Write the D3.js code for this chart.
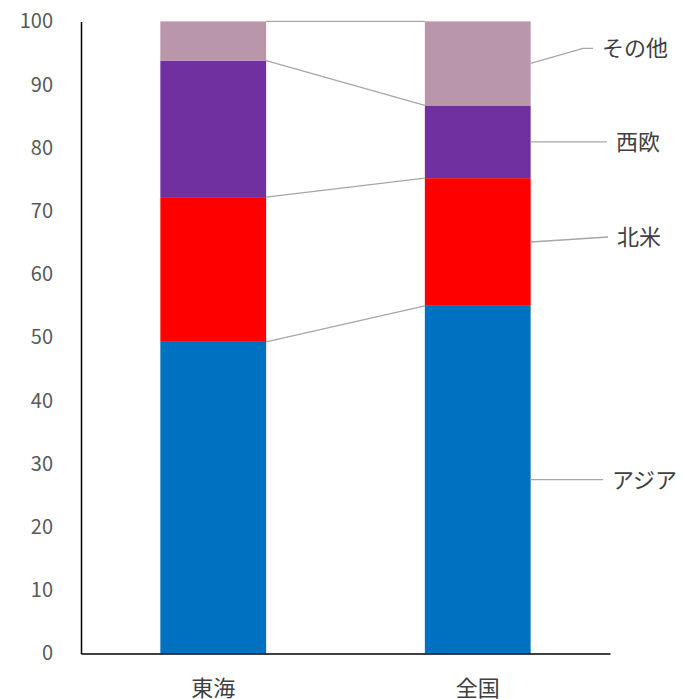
<!DOCTYPE html>
<html>
<head>
<meta charset="utf-8">
<script src="https://cdn.jsdelivr.net/npm/d3@7"></script>
<style>
  body { margin: 0; background: #fff; }
  svg { display: block; }
</style>
</head>
<body>
<script>
// chart values
var categories = ["東海", "全国"];
var seriesNames = ["アジア", "北米", "西欧", "その他"];
var asia = [49.3, 55.0];
var northAmerica = [22.9, 20.2];
var westEurope = [21.6, 11.5];
var other = [6.2, 13.3];
var yTicks = [0, 10, 20, 30, 40, 50, 60, 70, 80, 90, 100];

var colors = ["#0070C0", "#FF0000", "#7030A0", "#B996AA"];

var w = 682, h = 699;
// plot box (note: "top" is a reserved window prop, so use other names)
var plotLeft = 81, plotRight = 610, plotTop = 21.4, plotBottom = 653.5;

var svg = d3.select("body").append("svg")
    .attr("width", w)
    .attr("height", h);

// build rows for d3.stack
var rows = categories.map(function(c, i) {
  return {
    cat: c,
    "アジア": asia[i],
    "北米": northAmerica[i],
    "西欧": westEurope[i],
    "その他": other[i]
  };
});
var stacked = d3.stack().keys(seriesNames)(rows);

var x = d3.scaleBand()
    .domain(categories)
    .range([plotLeft, plotRight])
    .paddingInner(0.6)
    .paddingOuter(0.3);

var y = d3.scaleLinear()
    .domain([0, 100])
    .range([plotBottom, plotTop]);

// bars
var groups = svg.selectAll("g.series").data(stacked).enter().append("g")
    .attr("class", "series")
    .attr("fill", function(d, i) { return colors[i]; });

groups.selectAll("rect").data(function(d) { return d; }).enter().append("rect")
    .attr("x", function(d) { return x(d.data.cat); })
    .attr("y", function(d) { return y(d[1]); })
    .attr("width", x.bandwidth())
    .attr("height", function(d) { return y(d[0]) - y(d[1]); });

// series lines between the two bars
svg.selectAll("line.serline").data(stacked).enter().append("line")
    .attr("class", "serline")
    .attr("x1", x(categories[0]) + x.bandwidth())
    .attr("y1", function(d) { return y(d[0][1]); })
    .attr("x2", x(categories[1]))
    .attr("y2", function(d) { return y(d[1][1]); })
    .attr("stroke", "#A6A6A6")
    .attr("stroke-width", 1.3);

// axes
var yAxis = svg.append("g")
    .attr("transform", "translate(" + plotLeft + ",0)")
    .call(d3.axisLeft(y).tickValues(yTicks).tickSize(0).tickPadding(28));
yAxis.select(".domain").attr("stroke", "#000").attr("stroke-width", 1.5);
yAxis.selectAll("text")
    .attr("fill", "#595959")
    .style("font-family", "'Noto Sans CJK JP', 'Noto Sans', sans-serif")
    .style("font-size", "20px");

var xAxis = svg.append("g")
    .attr("transform", "translate(0," + plotBottom + ")")
    .call(d3.axisBottom(x).tickSize(0).tickPadding(27));
xAxis.select(".domain").attr("stroke", "#000").attr("stroke-width", 1.5);
xAxis.selectAll("text")
    .attr("fill", "#404040")
    .style("font-family", "'Noto Sans CJK JP', sans-serif")
    .style("font-size", "22px");

// series name labels beside the last bar, with leader lines
var labelLayout = [
  { dy: 0, end: 603, bend: 0 },
  { dy: -5, end: 608, bend: 0 },
  { dy: 0, end: 607, bend: 0 },
  { dy: -15, end: 583, bend: 10 }
];
var last = categories.length - 1;
var barRight = x(categories[last]) + x.bandwidth();

stacked.forEach(function(s, i) {
  var mid = y((s[last][0] + s[last][1]) / 2);
  var L = labelLayout[i];
  var ly = mid + L.dy;
  var pts = [[barRight, mid], [L.end, ly]];
  if (L.bend) pts.push([L.end + L.bend, ly]);
  svg.append("path")
      .attr("d", d3.line()(pts))
      .attr("fill", "none")
      .attr("stroke", "#A6A6A6")
      .attr("stroke-width", 1.3);
  svg.append("text")
      .attr("x", pts[pts.length - 1][0] + 9)
      .attr("y", ly)
      .attr("dy", "0.36em")
      .attr("fill", "#404040")
      .style("font-family", "'Noto Sans CJK JP', sans-serif")
      .style("font-size", "22px")
      .text(s.key);
});
</script>
</body>
</html>
